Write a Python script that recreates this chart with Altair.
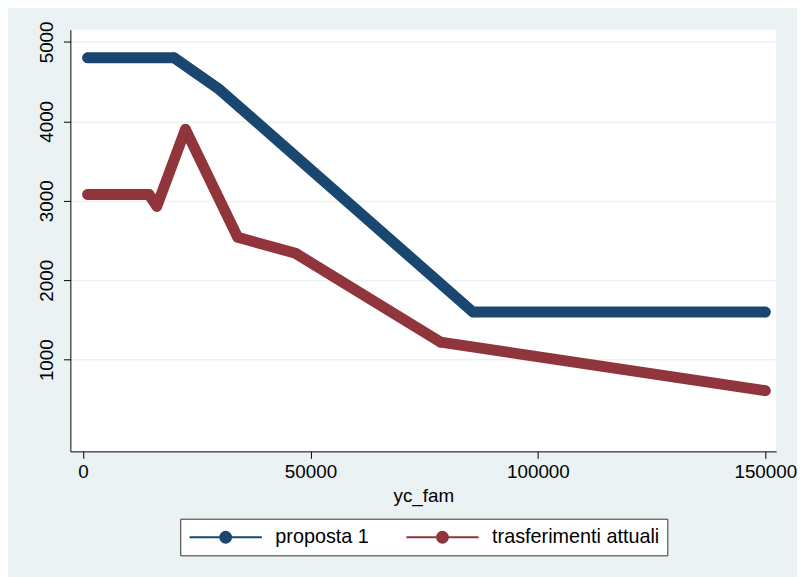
import altair as alt
import pandas as pd

# data
prop_x = [1000, 20000, 30000, 85700, 150000]
prop_y = [4800, 4800, 4400, 1600, 1600]

tras_x = [1000, 14500, 16200, 22500, 34000, 46700, 78600, 150000]
tras_y = [3080, 3080, 2930, 3900, 2540, 2340, 1220, 610]

series = ['proposta 1', 'trasferimenti attuali']
colors = ['#1a476f', '#90353b']

x_ticks = [0, 50000, 100000, 150000]
y_ticks = [1000, 2000, 3000, 4000, 5000]

df = pd.concat([
    pd.DataFrame({'yc_fam': prop_x, 'value': prop_y, 'serie': series[0]}),
    pd.DataFrame({'yc_fam': tras_x, 'value': tras_y, 'serie': series[1]}),
])

FONT = 'Liberation Sans'
BG = '#eaf2f3'

# legend glyph: short line with a dot in the middle
legend_symbol = 'M-1,0H7M3.6,0A0.6,0.6,0,1,1,2.4,0A0.6,0.6,0,1,1,3.6,0Z'

color = alt.Color(
    'serie:N',
    scale=alt.Scale(domain=series, range=colors),
    legend=alt.Legend(
        title=None, orient='none', legendX=111, legendY=494,
        direction='horizontal', columns=2, columnPadding=33,
        symbolType=legend_symbol, symbolSize=333, symbolStrokeWidth=2,
        labelOffset=67, labelFontSize=20, labelFont=FONT, labelColor='black',
        labelLimit=0,
        fillColor='white', strokeColor='#333', padding=8,
        cornerRadius=0,
    ),
)

base = alt.Chart(df).encode(
    x=alt.X('yc_fam:Q', scale=alt.Scale(domain=[-2800, 152400], nice=False, zero=False),
            axis=alt.Axis(values=x_ticks, format='d', grid=False, title='yc_fam',
                          tickSize=7, labelPadding=4, titlePadding=6)),
    y=alt.Y('value:Q', scale=alt.Scale(domain=[-154, 5154], nice=False, zero=False),
            axis=alt.Axis(values=y_ticks, format='d', title=None, labelAngle=270,
                          labelAlign='center', labelBaseline='bottom',
                          tickSize=7, labelPadding=7)),
    color=color,
)

lines = base.mark_line(strokeWidth=11, strokeCap='round', strokeJoin='round')
dots = base.mark_circle(size=110, opacity=1)

chart = (lines + dots).properties(
    width=713, height=426,
    background=BG,
    padding={'left': 63, 'top': 19, 'right': 21, 'bottom': 124},
    autosize=alt.AutoSizeParams(type='none'),
).configure_view(
    fill='white', stroke=None,
).configure_axis(
    labelFont=FONT, titleFont=FONT, labelFontSize=19, titleFontSize=19,
    titleFontWeight='normal', labelColor='black', titleColor='black',
    domainColor='black', tickColor='black', domainWidth=1, tickWidth=1,
    gridColor=BG, gridWidth=1.5,
)

chart.save('out.html', embed_options={'renderer': 'svg', 'actions': False})
